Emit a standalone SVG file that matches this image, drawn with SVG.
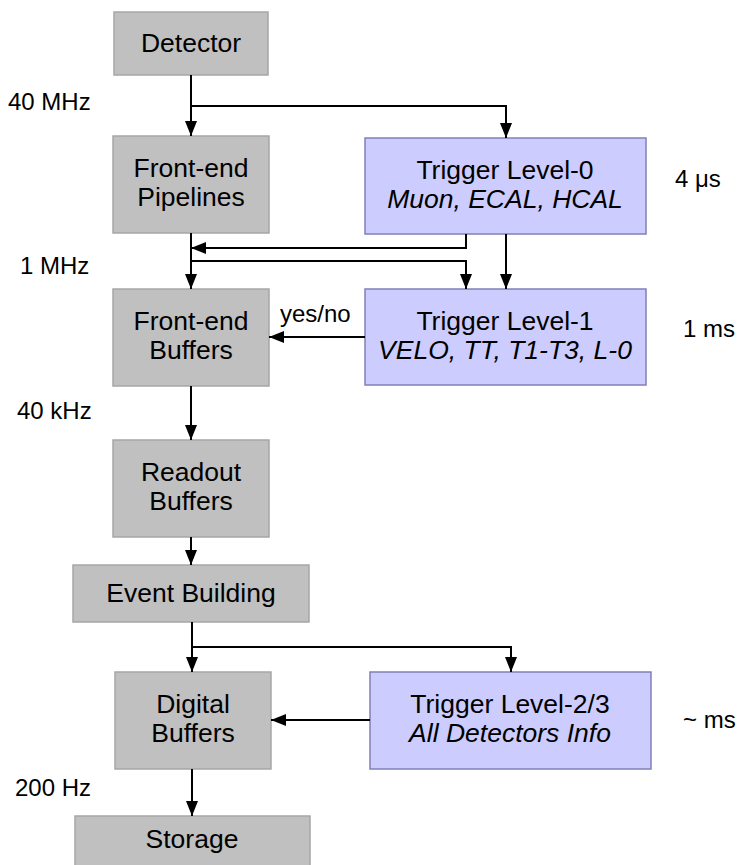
<svg xmlns="http://www.w3.org/2000/svg" width="741" height="865" viewBox="0 0 741 865">
  <defs>
    <marker id="arrow" markerUnits="userSpaceOnUse" markerWidth="16" markerHeight="12" refX="15" refY="6" orient="auto">
      <path d="M0,0 L15,6 L0,12 Z" fill="#000"/>
    </marker>
    <style>
      .stage { fill: #c0c0c0; stroke: #a6a6a6; stroke-width: 1.5; }
      .trigger { fill: #ccccff; stroke: #8080b8; stroke-width: 1.5; }
      text { font-family: "Liberation Sans", Arial, sans-serif; fill: #000; }
      .label { font-size: 26.5px; text-anchor: middle; }
      .sub { font-style: italic; }
      .side { font-size: 24px; }
      .link { fill: none; stroke: #000; stroke-width: 2; marker-end: url(#arrow); }
    </style>
  </defs>
  <rect width="741" height="865" fill="#fff"/>

  <!-- readout chain -->
  <g id="detector">
    <rect class="stage" x="114" y="12" width="154" height="63"/>
    <text class="label" x="191" y="52">Detector</text>
  </g>
  <g id="fe-pipelines">
    <rect class="stage" x="113" y="136" width="156" height="97"/>
    <text class="label" x="191" y="177">Front-end</text>
    <text class="label" x="191" y="206">Pipelines</text>
  </g>
  <g id="fe-buffers">
    <rect class="stage" x="113" y="289" width="156" height="97"/>
    <text class="label" x="191" y="330">Front-end</text>
    <text class="label" x="191" y="359">Buffers</text>
  </g>
  <g id="readout-buffers">
    <rect class="stage" x="113" y="440" width="156" height="97"/>
    <text class="label" x="191" y="481">Readout</text>
    <text class="label" x="191" y="510">Buffers</text>
  </g>
  <g id="event-building">
    <rect class="stage" x="73" y="565" width="236" height="57"/>
    <text class="label" x="191" y="602">Event Building</text>
  </g>
  <g id="digital-buffers">
    <rect class="stage" x="115" y="672" width="156" height="97"/>
    <text class="label" x="193" y="713">Digital</text>
    <text class="label" x="193" y="742">Buffers</text>
  </g>
  <g id="storage">
    <rect class="stage" x="75" y="816" width="235" height="60"/>
    <text class="label" x="192" y="848">Storage</text>
  </g>

  <!-- trigger levels -->
  <g id="trigger-l0">
    <rect class="trigger" x="365" y="138" width="281" height="96"/>
    <text class="label" x="505" y="179">Trigger Level-0</text>
    <text class="label sub" x="505" y="208">Muon, ECAL, HCAL</text>
  </g>
  <g id="trigger-l1">
    <rect class="trigger" x="365" y="289" width="281" height="96"/>
    <text class="label" x="505" y="330">Trigger Level-1</text>
    <text class="label sub" x="505" y="359">VELO, TT, T1-T3, L-0</text>
  </g>
  <g id="trigger-l23">
    <rect class="trigger" x="370" y="672" width="281" height="97"/>
    <text class="label" x="510" y="713">Trigger Level-2/3</text>
    <text class="label sub" x="510" y="742">All Detectors Info</text>
  </g>

  <!-- rates and latencies -->
  <g id="rates">
    <text class="side" x="8" y="110">40 MHz</text>
    <text class="side" x="20" y="274">1 MHz</text>
    <text class="side" x="17" y="419">40 kHz</text>
    <text class="side" x="15" y="796">200 Hz</text>
    <text class="side" x="675" y="187">4 μs</text>
    <text class="side" x="683" y="337">1 ms</text>
    <text class="side" x="683" y="728">~ ms</text>
    <text class="side" x="280" y="322">yes/no</text>
  </g>

  <!-- data and decision paths -->
  <g id="connectors">
    <path class="link" d="M191,75 V136"/>
    <path class="link" d="M191,106 H506 V138"/>
    <path class="link" d="M191,233 V289"/>
    <path class="link" d="M466,234 V248 H191"/>
    <path class="link" d="M191,261 H466 V289"/>
    <path class="link" d="M506,234 V289"/>
    <path class="link" d="M365,337 H269"/>
    <path class="link" d="M191,386 V440"/>
    <path class="link" d="M191,537 V565"/>
    <path class="link" d="M192,622 V672"/>
    <path class="link" d="M192,647 H511 V672"/>
    <path class="link" d="M370,720 H271"/>
    <path class="link" d="M192,769 V816"/>
  </g>
</svg>
